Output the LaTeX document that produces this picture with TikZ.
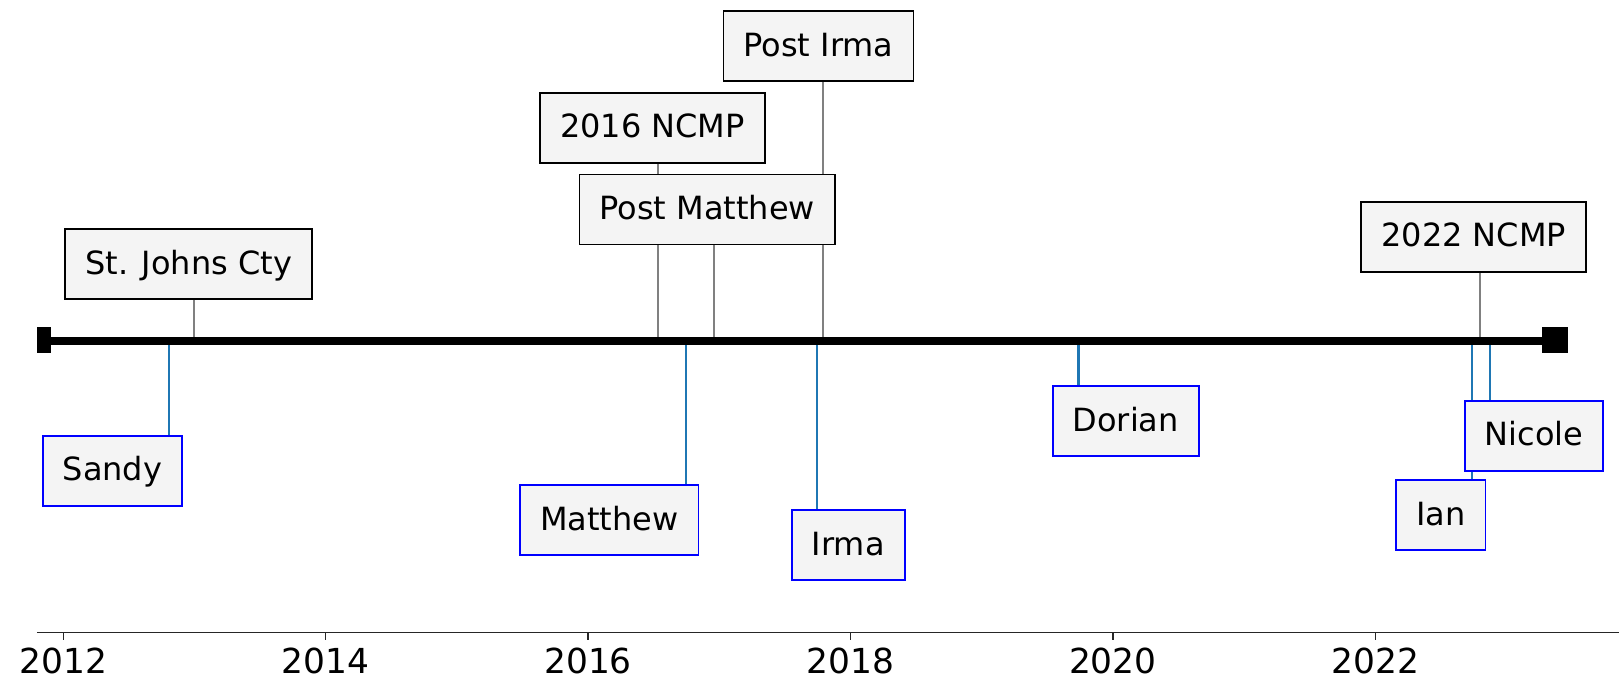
\documentclass[tikz,border=0pt]{standalone}
\usepackage{fontspec}
\setmainfont{DejaVu Sans}
\usetikzlibrary{backgrounds}
\definecolor{boxfill}{HTML}{F4F4F4}
\definecolor{stormblue}{HTML}{1F77B4}
\definecolor{axisgray}{HTML}{262626}
\tikzset{
  surveybox/.style={draw=black, fill=boxfill, line width=0.5pt, font=\fontsize{9.1}{11}\selectfont,
    inner xsep=0.2cm, minimum height=0.7cm, text height=0.8em, text depth=0.23em},
  stormbox/.style={surveybox, draw=blue},
  surveystem/.style={draw=gray, line width=0.65pt},
  stormstem/.style={draw=stormblue, line width=0.65pt},
  timeline/.style={draw=black, line width=2.1pt},
  endmark/.style={fill=black},
  axisline/.style={draw=axisgray, line width=0.45pt},
  yearlabel/.style={font=\fontsize{9.8}{12}\selectfont, anchor=base, inner sep=0pt}
}

\begin{document}
\begin{tikzpicture}
  \useasboundingbox (0,0) rectangle (16.19,6.78);
  % points on the timeline
  \coordinate (tlstart) at (0.375,3.37);
  \coordinate (tlend) at (15.548,3.37);
  \coordinate (stjohns) at (1.943,3.37);
  \coordinate (ncmp16) at (6.583,3.37);
  \coordinate (postmatthew) at (7.137,3.37);
  \coordinate (postirma) at (8.227,3.37);
  \coordinate (ncmp22) at (14.798,3.37);
  \coordinate (sandy) at (1.693,3.37);
  \coordinate (matthew) at (6.857,3.37);
  \coordinate (irma) at (8.173,3.37);
  \coordinate (dorian) at (10.786,3.37);
  \coordinate (ian) at (14.719,3.37);
  \coordinate (nicole) at (14.897,3.37);

  % surveys above the line
  \node[surveybox] (stjohnsbox) at (1.887,4.14) {St. Johns Cty};
  \node[surveybox] (ncmp16box) at (6.525,5.503) {2016 NCMP};
  \node[surveybox] (postmatthewbox) at (7.072,4.685) {Post Matthew};
  \node[surveybox] (postirmabox) at (8.185,6.32) {Post Irma};
  \node[surveybox] (ncmp22box) at (14.737,4.412) {2022 NCMP};

  % storms below the line
  \node[stormbox] (sandybox) at (1.125,2.073) {Sandy};
  \node[stormbox] (matthewbox) at (6.092,1.58) {Matthew};
  \node[stormbox] (irmabox) at (8.483,1.33) {Irma};
  \node[stormbox] (dorianbox) at (11.257,2.57) {Dorian};
  \node[stormbox] (ianbox) at (14.409,1.627) {Ian};
  \node[stormbox] (nicolebox) at (15.34,2.422) {Nicole};

  \begin{scope}[on background layer]
    \draw[surveystem] (stjohns) -- (stjohns |- stjohnsbox.south);
    \draw[surveystem] (ncmp16) -- (ncmp16 |- ncmp16box.south);
    \draw[surveystem] (postmatthew) -- (postmatthew |- postmatthewbox.south);
    \draw[surveystem] (postirma) -- (postirma |- postirmabox.south);
    \draw[surveystem] (ncmp22) -- (ncmp22 |- ncmp22box.south);
    \draw[stormstem] (sandy) -- (sandy |- sandybox.north);
    \draw[stormstem] (matthew) -- (matthew |- matthewbox.north);
    \draw[stormstem] (irma) -- (irma |- irmabox.north);
    \draw[stormstem] (dorian) -- (dorian |- dorianbox.north);
    \draw[stormstem] (ian) -- (ian |- ianbox.north);
    \draw[stormstem] (nicole) -- (nicole |- nicolebox.north);
    \draw[timeline] (tlstart) -- (tlend);
  \end{scope}
  % end marks
  \path[endmark] (0.373,3.247) rectangle (0.507,3.507);
  \path[endmark] (15.415,3.247) rectangle (15.68,3.507);

  % date axis
  \draw[axisline] (0.37,0.453) -- (16.19,0.453);
  \foreach \yr [count=\i from 0] in {2012,2014,...,2022} {
    \draw[axisline] (0.633+2.624*\i,0.453) -- ++(0,-0.07);
    \node[yearlabel] (y\yr) at (0.633+2.624*\i,0.047) {\yr};
  }
\end{tikzpicture}
\end{document}
